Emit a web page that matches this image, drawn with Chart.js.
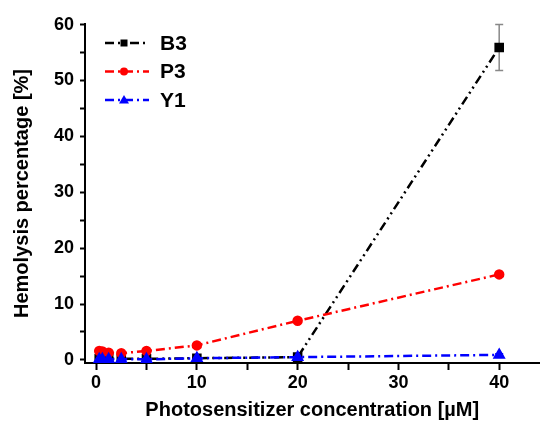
<!DOCTYPE html>
<html>
<head>
<meta charset="utf-8">
<script src="https://cdn.jsdelivr.net/npm/chart.js@4.4.1/dist/chart.umd.min.js"></script>
<style>
  html, body { margin: 0; padding: 0; background: #fff; }
  #wrap { width: 547px; height: 426px; }
</style>
</head>
<body>
<div id="wrap"><canvas id="c"></canvas></div>
<script>
/* ===== Hemolysis vs photosensitizer concentration ===== */

const conc   = [0.31, 0.625, 1.25, 2.5, 5, 10, 20, 40];
const b3     = [0.2, 0.2, 0.2, 0.2, 0.2, 0.3, 0.5, 55.9];
const b3Err  = [0, 0, 0, 0, 0, 0, 0, 4.1];
const p3     = [1.6, 1.5, 1.3, 1.2, 1.6, 2.6, 7.0, 15.3];
const p3Err  = [0.3, 0.2, 0.2, 0.2, 0.2, 0.2, 0.3, 0.3];
const y1     = [0.1, 0.1, 0.1, 0.1, 0.1, 0.3, 0.5, 0.9];
const y1Err  = [0.3, 0.2, 0.2, 0.2, 0.1, 0.2, 0.2, 0.2];
const xTicks = [0, 5, 10, 15, 20, 25, 30, 35, 40];
const yTicks = [0, 5, 10, 15, 20, 25, 30, 35, 40, 45, 50, 55, 60];

const FONT = "'Liberation Sans', Arial, sans-serif";

function pts(ys) {
  return conc.map((x, i) => ({ x: x, y: ys[i] }));
}

// error bars drawn from the data through the scales
const errorBars = {
  id: 'errorBars',
  beforeDatasetsDraw(chart) {
    const ctx = chart.ctx;
    const xs = chart.scales.x, ys = chart.scales.y;
    chart.data.datasets.forEach(ds => {
      if (!ds.errors) return;
      ctx.save();
      ctx.strokeStyle = ds.errColor || ds.borderColor;
      ctx.lineWidth = 1.5;
      ds.data.forEach((p, i) => {
        const e = ds.errors[i];
        if (!e) return;
        const px = xs.getPixelForValue(p.x);
        const top = ys.getPixelForValue(p.y + e);
        const bot = ys.getPixelForValue(p.y - e);
        ctx.beginPath();
        ctx.moveTo(px, top); ctx.lineTo(px, bot);
        ctx.moveTo(px - 4, top); ctx.lineTo(px + 4, top);
        ctx.moveTo(px - 4, bot); ctx.lineTo(px + 4, bot);
        ctx.stroke();
      });
      ctx.restore();
    });
  }
};

function drawMarker(ctx, style, x, y, color) {
  ctx.fillStyle = color;
  ctx.beginPath();
  if (style === 'rect') {
    ctx.rect(x - 3.5, y - 3.5, 7, 7);
  } else if (style === 'triangle') {
    ctx.moveTo(x, y - 5);
    ctx.lineTo(x + 5, y + 3.5);
    ctx.lineTo(x - 5, y + 3.5);
    ctx.closePath();
  } else {
    ctx.arc(x, y, 4, 0, Math.PI * 2);
  }
  ctx.fill();
}

// legend with line + marker samples, like the origin plot
const lineLegend = {
  id: 'lineLegend',
  afterDraw(chart) {
    const ctx = chart.ctx;
    const sets = chart.data.datasets;
    ctx.save();
    sets.forEach((ds, i) => {
      const y = 43 + i * 28.5;
      ctx.strokeStyle = ds.borderColor;
      ctx.lineWidth = 2.5;
      ctx.setLineDash(ds.borderDash);
      ctx.beginPath();
      ctx.moveTo(105, y); ctx.lineTo(149, y);
      ctx.stroke();
      ctx.setLineDash([]);
      drawMarker(ctx, ds.pointStyle, 124, y, ds.borderColor);
      ctx.fillStyle = '#000';
      ctx.font = 'bold 21px ' + FONT;
      ctx.textBaseline = 'middle';
      ctx.fillText(ds.label, 160, y + 1);
    });
    ctx.restore();
  }
};

const tickOpts = {
  color: '#000',
  font: { family: FONT, size: 18, weight: 'bold' },
  autoSkip: false,
  maxRotation: 0,
  callback: v => (v % 10 === 0 ? v : '')
};

new Chart(document.getElementById('c'), {
  type: 'line',
  data: {
    datasets: [
      {
        label: 'B3', data: pts(b3), errors: b3Err, errColor: '#888',
        borderColor: '#000', backgroundColor: '#000',
        borderDash: [9, 4, 2, 4, 2, 4], borderWidth: 2.5,
        pointStyle: 'rect', pointRadius: 5, order: 3
      },
      {
        label: 'P3', data: pts(p3), errors: p3Err,
        borderColor: '#ff0000', backgroundColor: '#ff0000',
        borderDash: [9, 4, 2, 4], borderWidth: 2.5,
        pointStyle: 'circle', pointRadius: 4, order: 2
      },
      {
        label: 'Y1', data: pts(y1), errors: y1Err,
        borderColor: '#0000ff', backgroundColor: '#0000ff',
        borderDash: [9, 4, 2, 4], borderWidth: 2.5,
        pointStyle: 'triangle', pointRadius: 5, order: 1
      }
    ]
  },
  options: {
    responsive: true,
    maintainAspectRatio: false,
    animation: false,
    layout: { padding: { top: 24, right: 2, left: 0, bottom: 0 } },
    plugins: { legend: { display: false }, tooltip: { enabled: false } },
    scales: {
      x: {
        type: 'linear', min: -1.1, max: 44.0,
        afterBuildTicks: s => { s.ticks = xTicks.map(v => ({ value: v })); },
        afterFit: s => { s.height = 63; },
        grid: { drawOnChartArea: false, drawTicks: true, tickLength: 7, tickWidth: 2, color: '#000' },
        border: { display: true, color: '#000', width: 2 },
        ticks: { ...tickOpts, padding: 2 },
        title: {
          display: true, text: 'Photosensitizer concentration [µM]', color: '#000',
          font: { family: FONT, size: 20, weight: 'bold' }, padding: { top: 0, bottom: 4 }
        }
      },
      y: {
        type: 'linear', min: -0.55, max: 60.1,
        afterBuildTicks: s => { s.ticks = yTicks.map(v => ({ value: v })); },
        afterFit: s => { s.width = 85; },
        grid: { drawOnChartArea: false, drawTicks: true, tickLength: 5, tickWidth: 2, color: '#000' },
        border: { display: true, color: '#000', width: 2 },
        ticks: { ...tickOpts, padding: 6 },
        title: {
          display: true, text: 'Hemolysis percentage [%]', color: '#000',
          font: { family: FONT, size: 20, weight: 'bold' }, padding: { top: 10, bottom: 0 }
        }
      }
    }
  },
  plugins: [errorBars, lineLegend]
});
</script>
</body>
</html>
